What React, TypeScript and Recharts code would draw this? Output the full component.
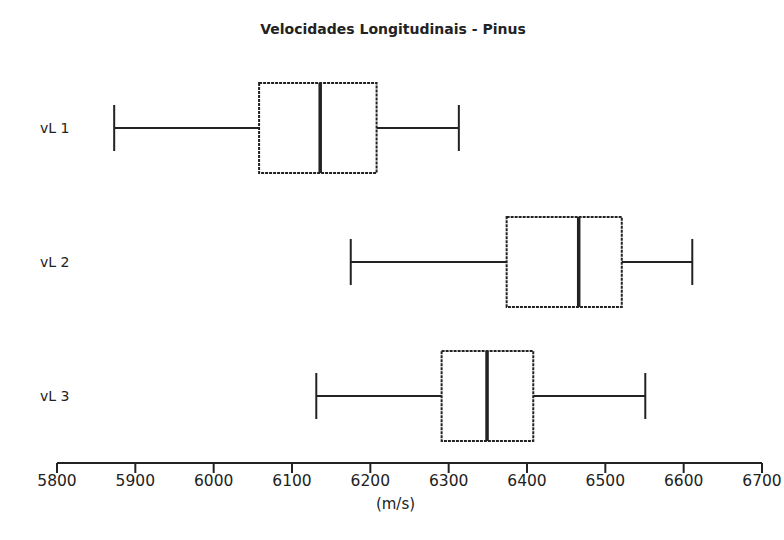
import React from "react";
import { Bar, ComposedChart, XAxis, YAxis } from "recharts";

const categories = ["vL 1", "vL 2", "vL 3"];
const minValues = [5873, 6175, 6131];
const q1Values = [6058, 6374, 6291];
const medianValues = [6136, 6466, 6349];
const q3Values = [6208, 6521, 6408];
const maxValues = [6313, 6611, 6551];
const xTicks = [5800, 5900, 6000, 6100, 6200, 6300, 6400, 6500, 6600, 6700];

const data = categories.map((name, i) => ({
  name,
  min: minValues[i],
  q1: q1Values[i],
  median: medianValues[i],
  q3: q3Values[i],
  max: maxValues[i],
  range: [minValues[i], maxValues[i]]
}));

const ink = "#222";

const BoxShape = (props: any) => {
  const { x, y, width, height, payload } = props;
  const px = (v: number) => x + ((v - payload.min) / (payload.max - payload.min)) * width;
  const cy = y + height / 2;
  const cap = 23;
  return (
    <g>
      <line x1={px(payload.min)} x2={px(payload.q1)} y1={cy} y2={cy} stroke={ink} strokeWidth={2} />
      <line x1={px(payload.q3)} x2={px(payload.max)} y1={cy} y2={cy} stroke={ink} strokeWidth={2} />
      <line x1={px(payload.min)} x2={px(payload.min)} y1={cy - cap} y2={cy + cap} stroke={ink} strokeWidth={2} />
      <line x1={px(payload.max)} x2={px(payload.max)} y1={cy - cap} y2={cy + cap} stroke={ink} strokeWidth={2} />
      <rect
        x={px(payload.q1)}
        y={y}
        width={px(payload.q3) - px(payload.q1)}
        height={height}
        fill="#fff"
        stroke={ink}
        strokeWidth={2}
        strokeDasharray="3 1"
      />
      <line x1={px(payload.median)} x2={px(payload.median)} y1={y} y2={y + height} stroke={ink} strokeWidth={3.5} />
    </g>
  );
};

const CategoryTick = (props: any) => {
  const { y, payload } = props;
  return (
    <text x={40} y={y} dy="0.35em" textAnchor="start" fontSize={14} fill={ink}>
      {payload.value}
    </text>
  );
};

export default function App() {
  return (
    <div
      style={{
        position: "relative",
        width: 784,
        height: 540,
        background: "#fff",
        fontFamily: "'DejaVu Sans', sans-serif"
      }}
    >
      <style>{`html, body { margin: 0; padding: 0; overflow: hidden; }`}</style>
      <div
        style={{
          position: "absolute",
          top: 21,
          left: 0,
          width: 786,
          textAlign: "center",
          fontSize: 14,
          fontWeight: "bold",
          color: ink
        }}
      >
        Velocidades Longitudinais - Pinus
      </div>
      <ComposedChart
        width={784}
        height={540}
        data={data}
        layout="vertical"
        margin={{ top: 61, right: 22, bottom: 27, left: 0 }}
      >
        <XAxis
          type="number"
          domain={[5800, 6700]}
          ticks={xTicks}
          allowDataOverflow
          height={50}
          tickSize={10}
          tickMargin={2}
          axisLine={{ stroke: ink, strokeWidth: 2 }}
          tickLine={{ stroke: ink, strokeWidth: 2 }}
          tick={{ fill: ink, fontSize: 15.5 }}
          label={{ value: "(m/s)", position: "insideBottom", offset: 4, dx: -14, fill: ink, fontSize: 15 }}
        />
        <YAxis
          type="category"
          dataKey="name"
          width={57}
          axisLine={false}
          tickLine={false}
          tick={<CategoryTick />}
        />
        <Bar dataKey="range" barSize={90} shape={<BoxShape />} isAnimationActive={false} />
      </ComposedChart>
    </div>
  );
}
